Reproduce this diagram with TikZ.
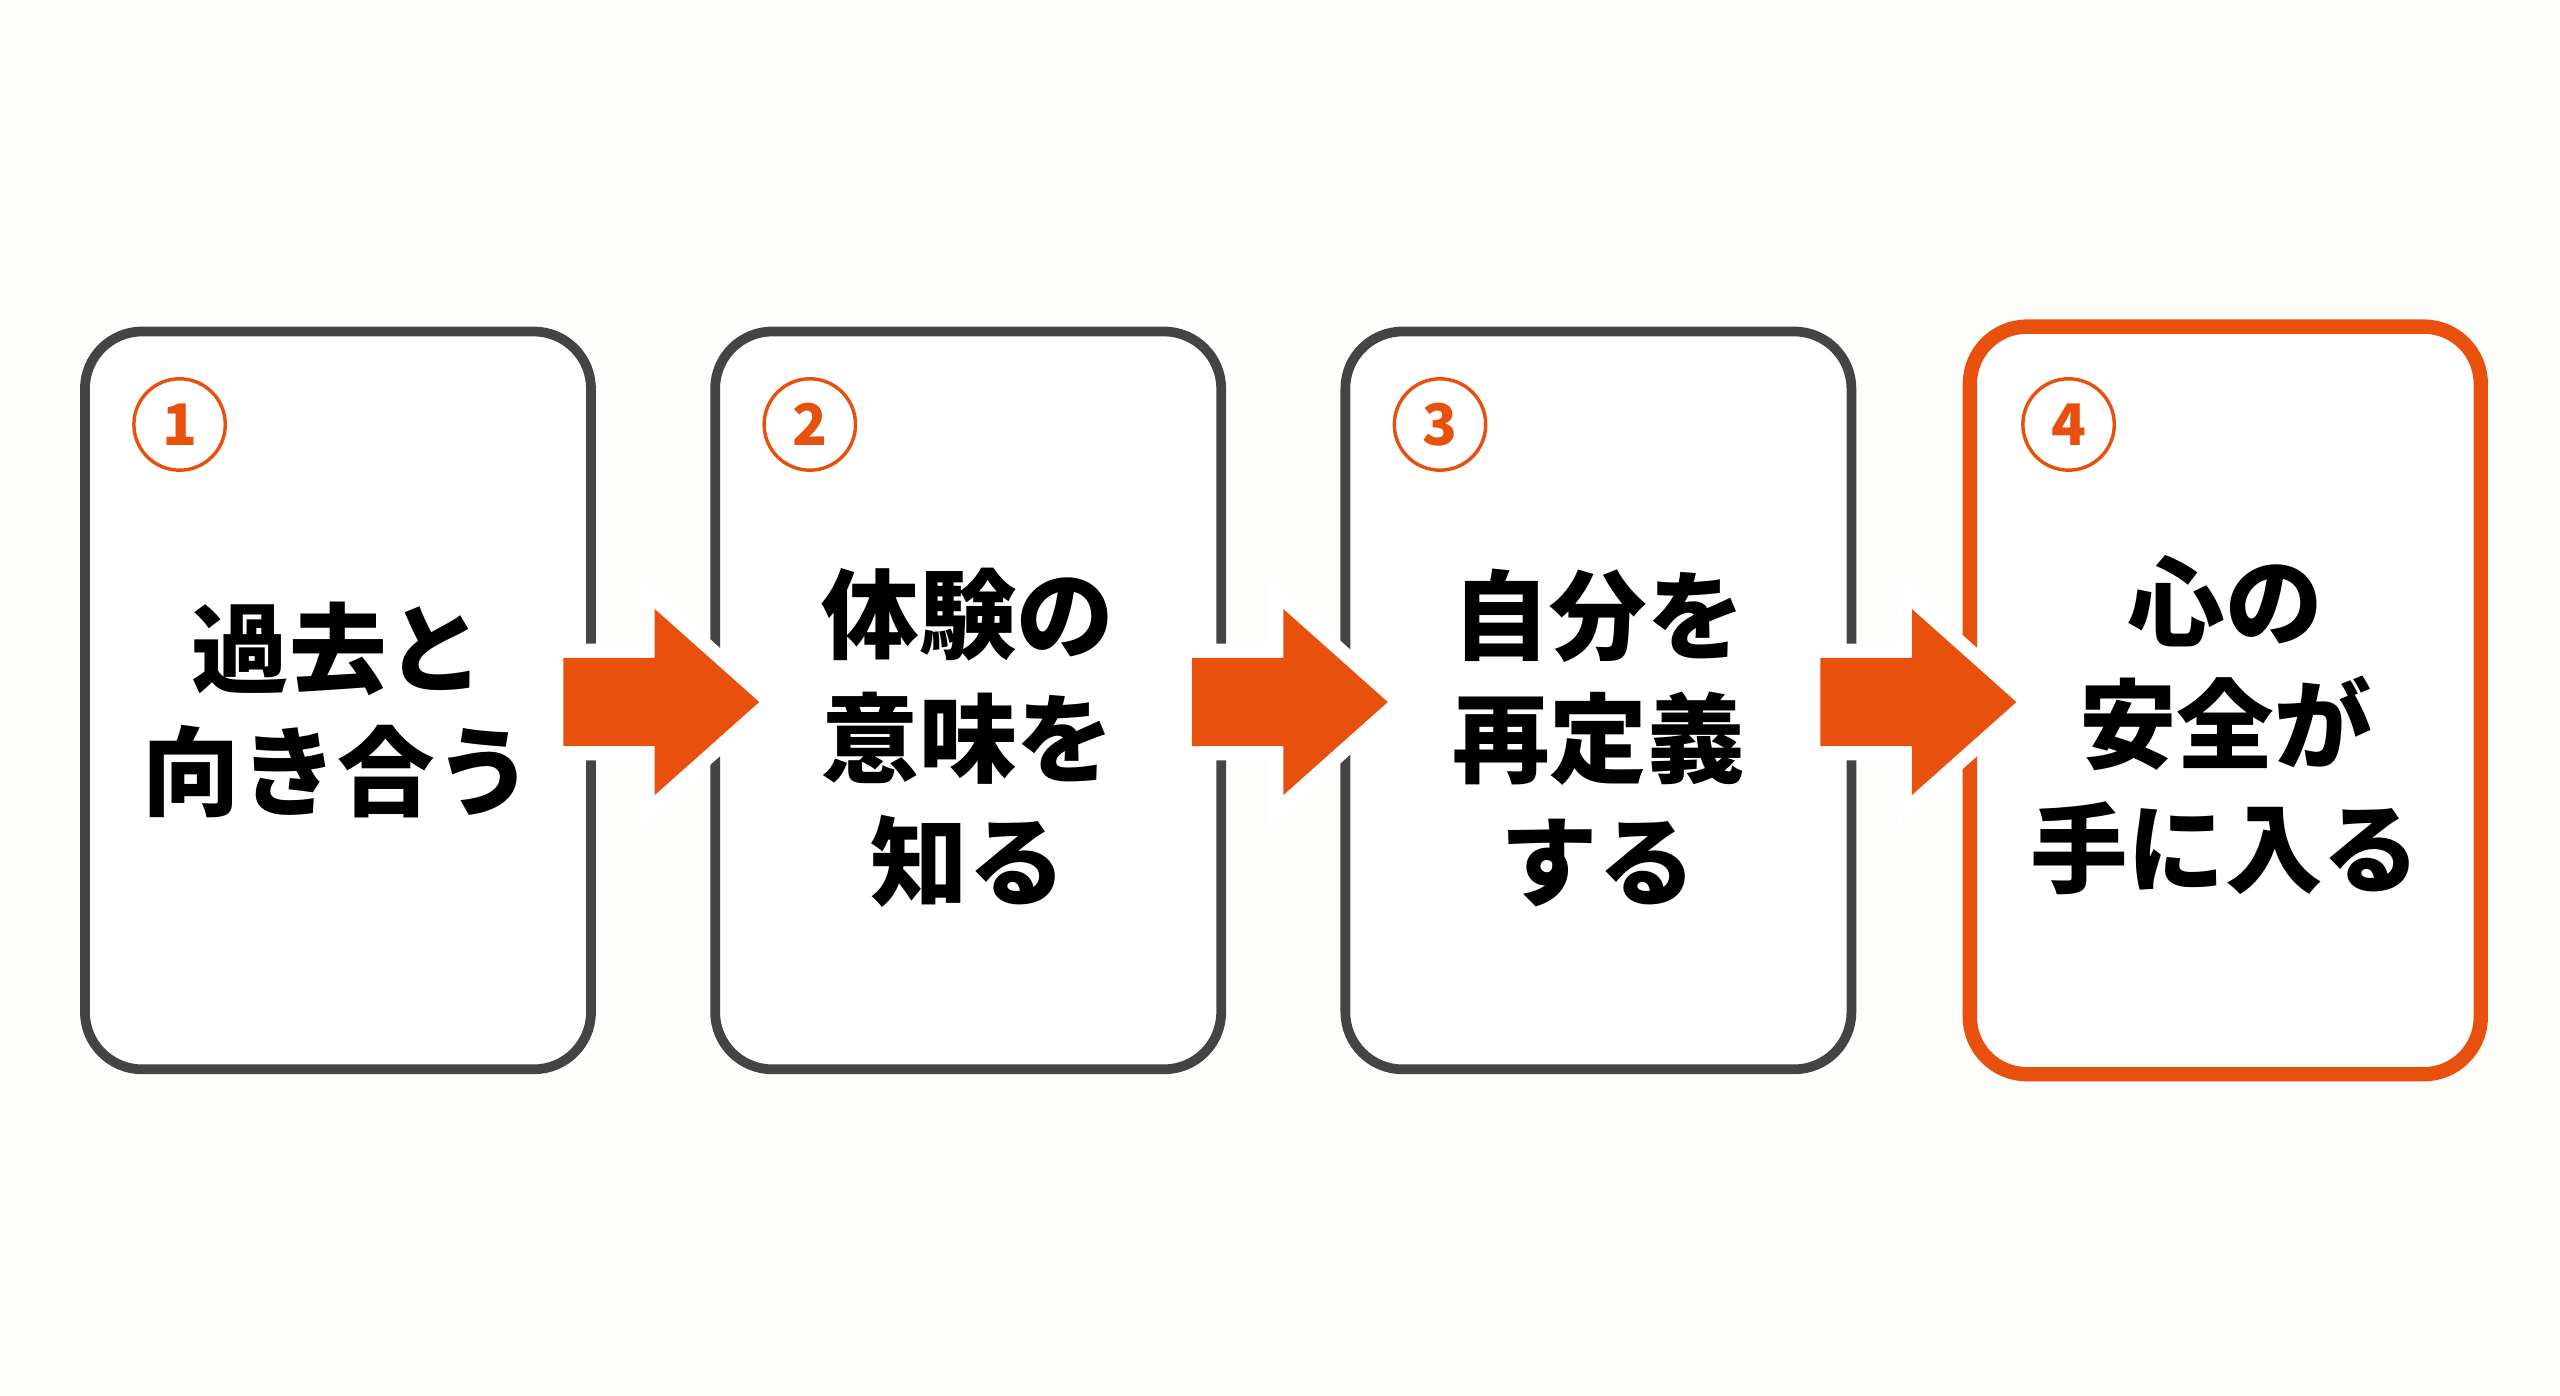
\documentclass[tikz,border=0pt]{standalone}
\usepackage{fontspec}
\newfontfamily\cjk{Noto Sans CJK JP}
\definecolor{stepor}{HTML}{E8500E}
\definecolor{stepgr}{HTML}{444444}
\definecolor{bgpaper}{HTML}{FDFDFB}
\tikzset{
  stage/.style={draw=stepgr, line width=3.4pt, rounded corners=0.7cm, fill=white,
    minimum width=6.2cm, minimum height=9.04cm, inner sep=0pt},
  laststage/.style={stage, draw=stepor, line width=5pt, minimum width=6.26cm, minimum height=9.16cm},
  num/.style={circle, draw=stepor, line width=1.2pt, minimum size=1.12cm, inner sep=0pt,
    text=stepor, font=\cjk\bfseries\fontsize{20}{20}\selectfont},
  words/.style={align=center, font=\cjk\bfseries\fontsize{34}{43}\selectfont, text=black},
  go/.style={fill=stepor, preaction={draw=white, line width=0.35cm}}
}
\newcommand{\goarrow}[1]{%
  \path[go] (#1) ++(-60,-27) -- ++(56,0) -- ++(0,-30) -- ++(64,57)
    -- ++(-64,57) -- ++(0,-30) -- ++(-56,0) -- cycle;}
\begin{document}
\begin{tikzpicture}[x=0.02cm,y=-0.02cm]
  \fill[bgpaper] (0,0) rectangle (1568,855);
  \useasboundingbox (0,0) rectangle (1568,855);
  % boxes
  \node[stage] (s1) at (207,429) {};
  \node[stage] (s2) at (593,429) {};
  \node[stage] (s3) at (979,429) {};
  \node[laststage] (s4) at (1363,429) {};
  % arrows
  \coordinate (a1) at (405,430);
  \coordinate (a2) at (790,430);
  \coordinate (a3) at (1175,430);
  \goarrow{a1}
  \goarrow{a2}
  \goarrow{a3}
  % numbers
  \node[num] (n1) at (110,260) {1};
  \node[num] (n2) at (496,260) {2};
  \node[num] (n3) at (882,260) {3};
  \node[num] (n4) at (1267,260) {4};
  % texts
  \node[words] (t1) at (207,435) {過去と\\向き合う};
  \node[words] (t2) at (593,452) {体験の\\意味を\\知る};
  \node[words] (t3) at (979,452) {自分を\\再定義\\する};
  \node[words] (t4) at (1363,444) {心の\\安全が\\手に入る};
\end{tikzpicture}
\end{document}
